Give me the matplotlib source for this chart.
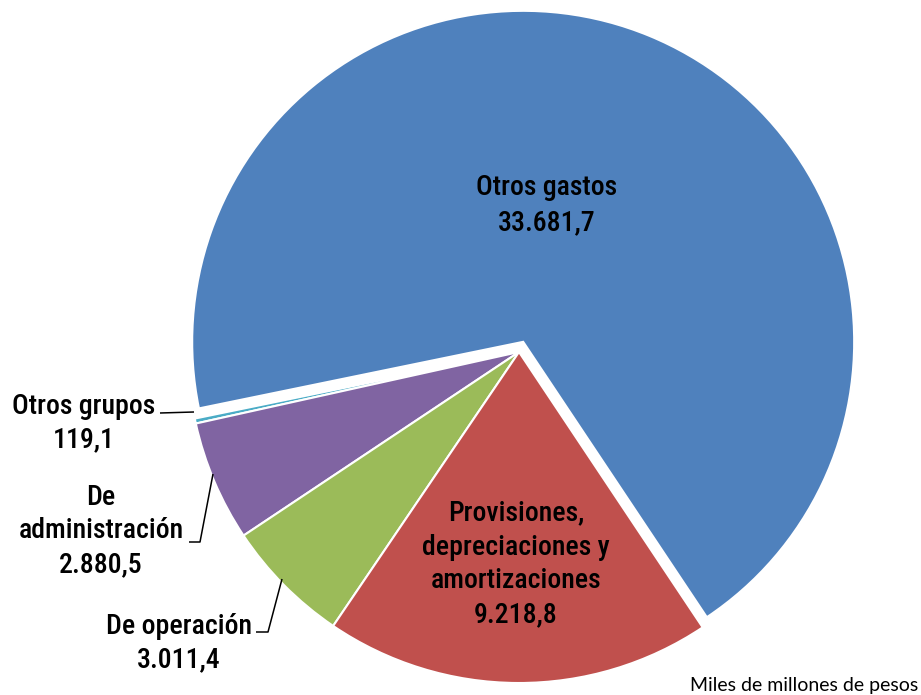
import matplotlib
matplotlib.use("Agg")
import matplotlib.pyplot as plt
from matplotlib import font_manager as fm

categories = ["Otros gastos", "Otros grupos", "De\nadministración", "De operación",
              "Provisiones,\ndepreciaciones y\namortizaciones"]
values = [33681.7, 119.1, 2880.5, 3011.4, 9218.8]
value_labels = ["33.681,7", "119,1", "2.880,5", "3.011,4", "9.218,8"]
colors = ["#4F81BD", "#4BACC6", "#8064A2", "#9BBB59", "#C0504D"]
unit_note = "Miles de millones de pesos"

names = {f.name for f in fm.fontManager.ttflist}
fam = "DejaVu Sans"
for cand in ["Liberation Sans Narrow", "Arial Narrow", "Roboto Condensed",
             "IBM Plex Sans Condensed", "Open Sans Condensed"]:
    if cand in names:
        fam = cand
        break
note_fam = "Lato" if "Lato" in names else fam
plt.rcParams["font.family"] = [fam, "DejaVu Sans"]

W, H = 921, 695
fig = plt.figure(figsize=(W / 100, H / 100), dpi=100)
ax = fig.add_axes([0, 0, 1, 1])

start = -56.3
explode = [11, 0, 0, 0, 0]  # data units = pixels
ax.pie(values, colors=colors, startangle=start, counterclock=True,
       center=(519, H - 352), radius=331, explode=explode,
       wedgeprops=dict(edgecolor="white", linewidth=1.5), frame=True)
ax.set_xlim(0, W)
ax.set_ylim(0, H)
ax.set_aspect("equal")
ax.axis("off")

fs = 20
fw = 500

def px(x, y):
    return x, H - y

ax.text(*px(547, 205), f"{categories[0]}\n{value_labels[0]}", ha="center", va="center",
        fontsize=fs, fontweight=fw, linespacing=1.42)
ax.text(*px(516, 564), f"{categories[4]}\n{value_labels[4]}", ha="center", va="center",
        fontsize=fs, fontweight=fw, linespacing=1.33)
ax.text(*px(84, 423), f"{categories[1]}\n{value_labels[1]}", ha="center", va="center",
        fontsize=fs, fontweight=fw, linespacing=1.33)
ax.text(*px(101, 531), f"{categories[2]}\n{value_labels[2]}", ha="center", va="center",
        fontsize=fs, fontweight=fw, linespacing=1.33)
ax.text(*px(179, 643), f"{categories[3]}\n{value_labels[3]}", ha="center", va="center",
        fontsize=fs, fontweight=fw, linespacing=1.33)

def leader(pts):
    xs = [p[0] for p in pts]
    ys = [H - p[1] for p in pts]
    ax.plot(xs, ys, color="black", lw=1.1, solid_capstyle="butt")

leader([(160, 413), (194, 412)])
leader([(189, 542), (200, 542), (213, 474)])
leader([(256, 632), (268, 632), (282, 579)])

ax.text(*px(918, 685), unit_note, ha="right", va="center", fontsize=14, family=note_fam)

fig.savefig("out.png", dpi=100)
